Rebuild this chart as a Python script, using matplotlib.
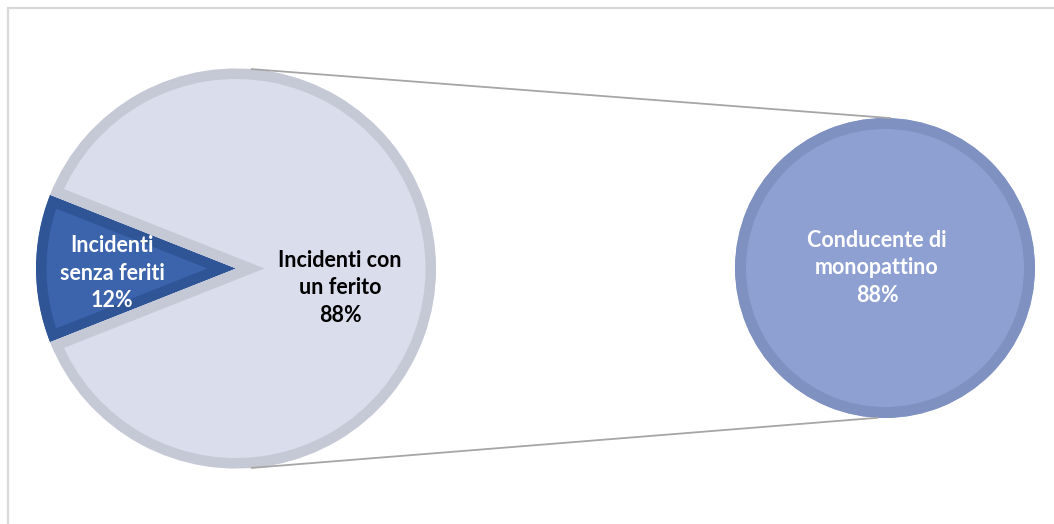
import numpy as np
import matplotlib
matplotlib.use("Agg")
import matplotlib.pyplot as plt
from matplotlib.patches import Wedge

# Main pie: accidents by number of injured
main_labels = ["Incidenti\nsenza feriti", "Incidenti con\nun ferito"]
main_values = [12, 88]
main_colors = ["#3B64AD", "#DADDEB"]
main_edges = ["#2F5597", "#C5C9D6"]
main_text_colors = ["white", "black"]

# Secondary pie: breakdown of the injured
sub_labels = ["Conducente di\nmonopattino"]
sub_values = [88]
sub_colors = ["#8EA0D2"]
sub_edges = ["#7F91C0"]

W, H = 1054, 524
fig = plt.figure(figsize=(W / 100, H / 100), dpi=100)
ax = fig.add_axes([0, 0, 1, 1])

plt.rcParams["font.family"] = ["Lato", "DejaVu Sans"]

# outer frame
ax.plot([8, 8, W], [H, 8, 8], color="#D9D9D9", lw=1.6, solid_joinstyle="miter",
        zorder=0)


def px2pt(px):
    return px * 72 / 100


def inner_border(wedges, edgecolors, width_px):
    # stroke drawn twice as wide, then clipped to the wedge -> border lies inside
    for w, ec in zip(wedges, edgecolors):
        clip = Wedge(w.center, w.r, w.theta1, w.theta2)
        clip.set_transform(ax.transData)
        w.set_edgecolor(ec)
        w.set_linewidth(px2pt(2 * width_px))
        w.set_joinstyle("miter")
        w.set_clip_on(True)
        w.set_clip_path(clip)


c1, R1 = (236, 268.5), 200
c2, R2 = (885, 268), 150

# small slice centred on the left side
start = 180 - main_values[0] / sum(main_values) * 360 / 2
wedges, _ = ax.pie(main_values, colors=main_colors, startangle=start,
                   center=c1, radius=R1, counterclock=True)
inner_border(wedges, main_edges, 10.5)

wedges2, _ = ax.pie(sub_values, colors=sub_colors, startangle=90,
                    center=c2, radius=R2)
inner_border(wedges2, sub_edges, 11)

ax.set_xlim(0, W)
ax.set_ylim(H, 0)
ax.set_aspect("equal")
ax.axis("off")

# connector lines between the two pies
top1 = (c1[0] + R1 * np.cos(np.radians(85.5)), c1[1] - R1 * np.sin(np.radians(85.5)))
bot1 = (c1[0] + R1 * np.cos(np.radians(85.5)), c1[1] + R1 * np.sin(np.radians(85.5)))
top2 = (c2[0] + R2 * np.cos(np.radians(88)), c2[1] - R2 * np.sin(np.radians(88)))
bot2 = (c2[0] + R2 * np.cos(np.radians(93)), c2[1] + R2 * np.sin(np.radians(93)))
ax.plot([top1[0], top2[0]], [top1[1], top2[1]], color="#A6A6A6", lw=1.3, zorder=1)
ax.plot([bot1[0], bot2[0]], [bot1[1], bot2[1]], color="#A6A6A6", lw=1.3, zorder=1)

fs = 15.5
label_pos = [(112, 273), (340, 288)]
for (x, y), lab, v, tc in zip(label_pos, main_labels, main_values, main_text_colors):
    ax.text(x, y, f"{lab}\n{v}%", ha="center", va="center", color=tc,
            fontsize=fs, fontweight="bold", linespacing=1.4, zorder=5)

for lab, v in zip(sub_labels, sub_values):
    ax.text(877, 268, f"{lab}\n{v}%", ha="center", va="center", color="white",
            fontsize=fs, fontweight="bold", linespacing=1.4, zorder=5)

fig.savefig("out.png", dpi=100, facecolor="white")
